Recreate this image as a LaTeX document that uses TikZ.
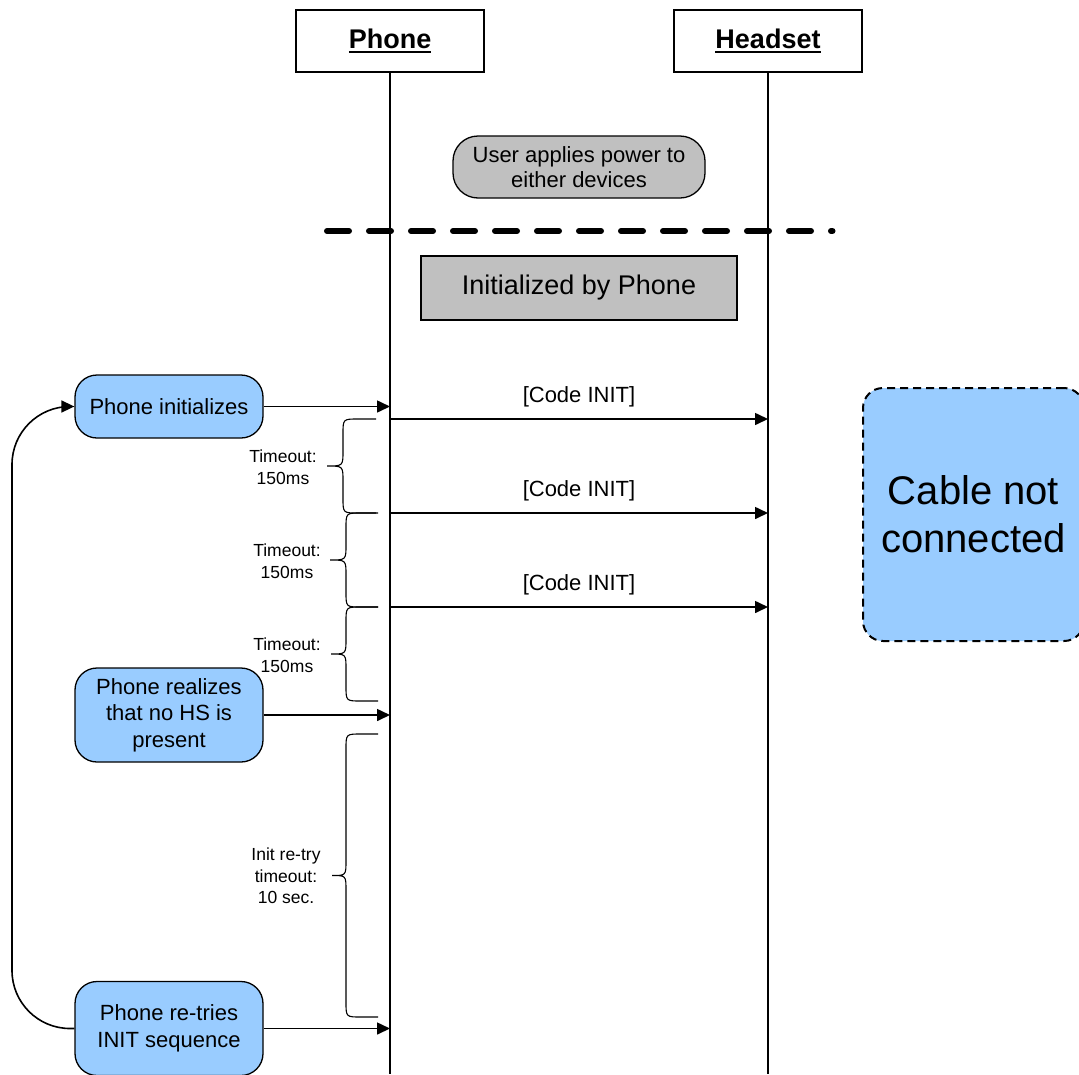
\documentclass[tikz,border=0pt]{standalone}
\usepackage{fontspec}
\setmainfont{Liberation Sans}
\usetikzlibrary{arrows.meta}
\definecolor{boxblue}{HTML}{99CCFF}
\definecolor{boxgray}{HTML}{C0C0C0}
\newcommand{\thickul}[1]{\setbox0\hbox{#1}\rlap{\vrule height -3pt depth 5pt width \wd0}\box0}
\newcommand{\drawbrace}[5]{%
  \pgfmathsetmacro{\bmid}{(#1+#2)/2}
  \draw[tbrace] (#5,#1) -- (#3+15,#1) .. controls (#3,#1) .. (#3,#1+15)
    -- (#3,\bmid-15) .. controls (#3,\bmid) .. (#4,\bmid)
    .. controls (#3,\bmid) .. (#3,\bmid+15)
    -- (#3,#2-15) .. controls (#3,#2) .. (#3+15,#2) -- (#5,#2);
}
\tikzset{
  hdr/.style={draw, line width=1.2pt, fill=white, minimum width=188pt, minimum height=62pt,
    font=\fontsize{27}{30}\selectfont\bfseries},
  bluebox/.style={draw, line width=1.3pt, fill=boxblue, rounded corners=22pt,
    minimum width=188pt, align=center, font=\fontsize{22}{26.5}\selectfont},
  graybox/.style={draw, line width=1.3pt, fill=boxgray, align=center,
    font=\fontsize{22}{25}\selectfont},
  life/.style={line width=1.5pt},
  msg/.style={line width=1.6pt, -{Triangle[length=13pt,width=12pt]}},
  lbl/.style={font=\fontsize{22}{26}\selectfont, inner sep=0pt},
  small/.style={font=\fontsize{17.5}{21.5}\selectfont, align=center},
  tbrace/.style={line width=1.1pt},
}
\begin{document}
\begin{tikzpicture}[x=1pt, y=-1pt]
\useasboundingbox (0,0) rectangle (1079,1074);
\coordinate (bot) at (0,1074);
% lifelines
\node[hdr] (phone) at (390,41) {\thickul{Phone}};
\node[hdr] (headset) at (768,41) {\thickul{Headset}};
\draw[life] (phone.south) -- (phone.south |- bot);
\draw[life] (headset.south) -- (headset.south |- bot);
% setup
\node[graybox, rounded corners=25pt, minimum width=252pt, minimum height=62pt] (power) at (579,167) {User applies power to\\either devices};
\draw[line width=6pt, line cap=round, dash pattern=on 22pt off 20pt] (327,231) -- (832.5,231);
\node[graybox, minimum width=316pt, minimum height=64pt, font=\fontsize{27}{30}\selectfont] (initby) at (579,288) {Initialized by Phone};
% phone side
\node[bluebox, minimum height=63pt] (init) at (169,406.5) {Phone initializes};
\node[bluebox, minimum height=94pt] (realize) at (169,715) {Phone realizes\\that no HS is\\present};
\node[bluebox, minimum height=94pt] (retry) at (169,1028.5) {Phone re-tries\\INIT sequence};
\draw[msg] (init.east) -- (init.east -| phone.south);
\draw[msg] (realize.east) -- (realize.east -| phone.south);
\draw[msg] (retry.east) -- (retry.east -| phone.south);
\coordinate (loopx) at (12,0);
\draw[msg, rounded corners=58pt] (retry.west) -| (loopx |- init.west) -- (init.west);
% messages
\foreach \n/\y in {1/419,2/513,3/607} {
  \coordinate (pm\n) at (390,\y);
  \coordinate (hm\n) at (768,\y);
  \draw[msg] (pm\n) -- node[lbl, above=11pt] (code\n) {[Code INIT]} (hm\n);
}
% timeouts
\drawbrace{419}{513}{343}{327}{376}
\drawbrace{513}{607}{346}{330}{378}
\drawbrace{607}{701}{346}{331}{378}
\drawbrace{734}{1017}{346}{332}{378}
\node[small] (to1) at (283,467) {Timeout:\\150ms};
\node[small] (to2) at (287,561) {Timeout:\\150ms};
\node[small] (to3) at (287,655) {Timeout:\\150ms};
\node[small] (to4) at (286,876) {Init re-try\\timeout:\\10 sec.};
% headset side
\node[draw, line width=2pt, dash pattern=on 8pt off 5pt, fill=boxblue, rounded corners=20pt,
  minimum width=221pt, minimum height=253pt, align=center,
  font=\fontsize{40}{48}\selectfont] (cable) at (973.5,514.5) {Cable not\\connected};
\end{tikzpicture}
\end{document}
